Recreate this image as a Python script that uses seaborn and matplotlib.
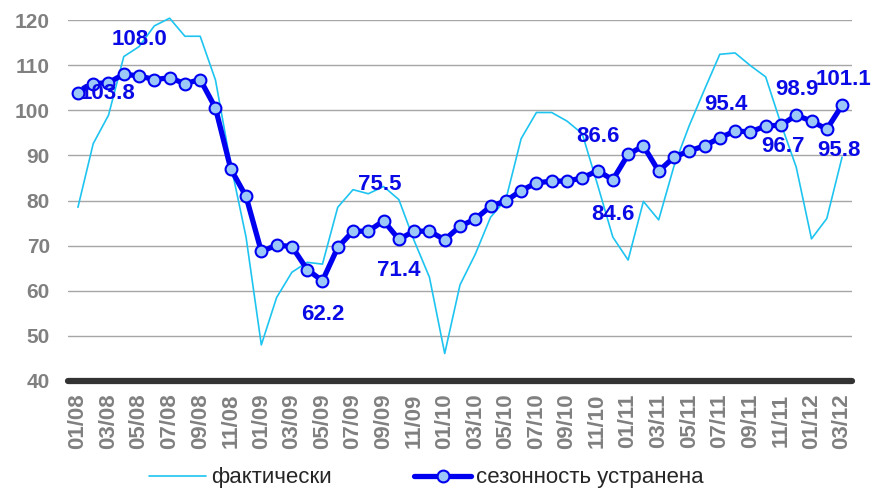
import matplotlib
matplotlib.use("Agg")
import matplotlib.pyplot as plt
import seaborn as sns
import pandas as pd

months = ["01/08", "02/08", "03/08", "04/08", "05/08", "06/08", "07/08", "08/08", "09/08", "10/08", "11/08", "12/08",
          "01/09", "02/09", "03/09", "04/09", "05/09", "06/09", "07/09", "08/09", "09/09", "10/09", "11/09", "12/09",
          "01/10", "02/10", "03/10", "04/10", "05/10", "06/10", "07/10", "08/10", "09/10", "10/10", "11/10", "12/10",
          "01/11", "02/11", "03/11", "04/11", "05/11", "06/11", "07/11", "08/11", "09/11", "10/11", "11/11", "12/11",
          "01/12", "02/12", "03/12"]

actual = [78.5, 92.6, 98.9, 111.9, 114.1, 118.7, 120.4, 116.4, 116.4, 106.7,
          88.0, 71.9, 48.0, 58.5, 64.1, 66.3, 65.9, 78.5, 82.4, 81.5,
          83.1, 80.2, 71.1, 63.0, 46.1, 61.3, 68.1, 76.3, 80.2, 93.7,
          99.5, 99.5, 97.6, 94.8, 83.5, 71.9, 66.8, 79.8, 75.7, 87.6,
          96.6, 104.6, 112.4, 112.7, 109.9, 107.4, 97.0, 87.4, 71.5, 76.0,
          89.6]

seas_adj = [103.8, 105.9, 106.1, 108.0, 107.6, 106.8, 107.2, 105.9, 106.8, 100.5,
            87.0, 80.9, 68.7, 70.1, 69.8, 64.7, 62.2, 69.6, 73.2, 73.2,
            75.5, 71.4, 73.2, 73.2, 71.3, 74.3, 75.9, 78.7, 79.9, 82.2,
            83.9, 84.3, 84.3, 85.0, 86.6, 84.6, 90.2, 92.1, 86.5, 89.6,
            91.0, 92.1, 93.9, 95.4, 95.2, 96.5, 96.7, 98.9, 97.6, 95.8,
            101.1]

labelled_idx = [0, 3, 16, 20, 21, 34, 35, 43, 46, 47, 49, 50]
label_offsets = [(30, 0), (16, 35), (0, -34), (-4, 36), (0, -31), (0, 34),
                 (0, -35), (-9, 27), (2, -21), (1, 26), (12, -21), (1, 26)]

series_names = ["фактически", "сезонность устранена"]

df = pd.DataFrame({"idx": range(len(months)), "month": months,
                   "actual": actual, "sa": seas_adj})

sns.set_style("white")
plt.rcParams["font.family"] = ["Liberation Sans", "DejaVu Sans"]

fig = plt.figure(figsize=(8.74, 4.93), dpi=100)
ax = fig.add_axes([68 / 874, 1 - 381 / 493, (852 - 68) / 874, (381 - 20) / 493])

sns.lineplot(data=df, x="idx", y="actual", ax=ax, color="#1EC4F0", linewidth=1.2,
             label=series_names[0], clip_on=False, zorder=3)
sns.lineplot(data=df, x="idx", y="sa", ax=ax, color="#0000F0", linewidth=3.8,
             marker="o", markersize=8.5, markerfacecolor="#9CC8F8",
             markeredgecolor="#0000F0", markeredgewidth=1.5,
             label=series_names[1], clip_on=False, zorder=4)

for i, (dx, dy) in zip(labelled_idx, label_offsets):
    ax.annotate(f"{seas_adj[i]:.1f}", xy=(i, seas_adj[i]), xytext=(dx, dy),
                textcoords="offset pixels", ha="center", va="center",
                fontsize=16, fontweight="bold", color="#0A0AE6", zorder=6)

ax.set_xlim(-0.65, len(months) - 1 + 0.65)
ax.set_ylim(40, 120)
ax.set_yticks(range(40, 121, 10))
ax.set_xticks(range(0, len(months), 2))
ax.set_xticklabels(months[::2], rotation=90)
ax.set_xlabel("")
ax.set_ylabel("")
ax.yaxis.grid(True, color="#A6A6A6", linewidth=1.0)
ax.set_axisbelow(True)

for s in ["top", "right", "left"]:
    ax.spines[s].set_visible(False)
ax.spines["bottom"].set_color("#333333")
ax.spines["bottom"].set_linewidth(4.5)
ax.spines["bottom"].set_capstyle("round")
ax.spines["bottom"].set_zorder(5)

ax.tick_params(axis="both", length=0, labelsize=15, labelcolor="#808080")
ax.tick_params(axis="y", pad=13)
ax.tick_params(axis="x", pad=9)
for t in ax.get_xticklabels():
    t.set_fontweight("bold")
    t.set_fontsize(16)
for t in ax.get_yticklabels():
    t.set_fontweight("bold")

handles, labels = ax.get_legend_handles_labels()
ax.legend_.remove()
fig.legend(handles, labels, loc="center", bbox_to_anchor=(426 / 874, 1 - 478 / 493),
           ncol=2, frameon=False, prop={"family": ["Liberation Sans"], "size": 16},
           handlelength=2.6, columnspacing=3.7, handletextpad=0.2)

fig.savefig("out.png", dpi=100)
